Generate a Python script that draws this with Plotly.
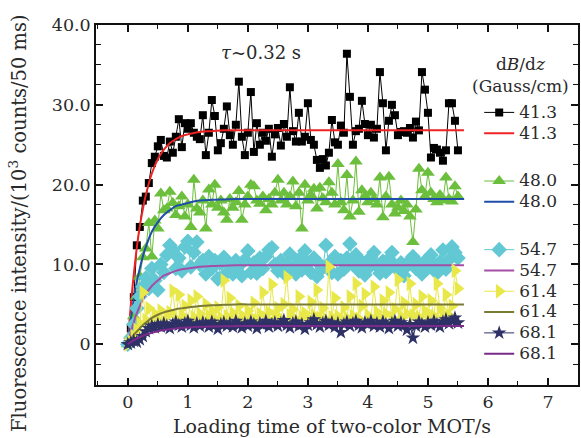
import plotly.graph_objects as go

# sampling time grid (50 ms per point), s
t_data = [round(i * 0.05, 2) for i in range(111)]

# dB/dz = 41.3 Gauss/cm (black squares)
y413 = [0.0, 2.0, 5.9, 12.4, 14.7, 18.0, 18.5, 20.2, 22.7, 23.5,
        24.8, 25.6, 23.6, 23.4, 25.4, 24.0, 26.0, 28.2, 24.7, 27.7,
        27.0, 27.7, 26.5, 26.0, 25.7, 28.7, 23.7, 26.5, 30.6, 28.6,
        24.3, 25.2, 27.0, 29.8, 26.2, 25.0, 27.5, 32.9, 26.0, 23.7,
        26.5, 31.6, 24.1, 27.7, 25.0, 26.5, 25.5, 27.0, 23.5, 26.3,
        27.1, 24.9, 27.6, 26.0, 32.2, 26.7, 25.4, 29.0, 25.4, 26.0,
        30.2, 25.6, 25.0, 23.1, 22.1, 23.2, 22.4, 24.0, 28.1, 25.3,
        25.0, 27.4, 26.5, 36.4, 31.0, 25.0, 26.7, 27.0, 30.5, 27.6,
        26.2, 27.5, 25.9, 27.0, 34.1, 30.2, 24.3, 28.0, 30.0, 28.7,
        26.2, 26.6, 26.7, 26.5, 27.1, 25.9, 27.9, 26.8, 34.1, 31.9,
        29.0, 23.4, 24.6, 24.4, 24.0, 23.0, 24.3, 30.2, 30.2, 28.0,
        24.3]

# dB/dz = 48.0 (green triangles)
y480 = [0.0, 1.2, 3.5, 6.0, 8.5, 10.9, 12.0, 15.2, 11.0, 15.5,
        14.5, 18.9, 16.8, 17.0, 19.1, 17.7, 16.2, 17.3, 18.5, 16.0,
        17.5, 14.7, 20.6, 17.0, 16.5, 18.0, 14.5, 19.4, 17.5, 20.0,
        17.1, 18.0, 16.5, 15.6, 18.2, 17.1, 17.8, 19.2, 15.6, 17.5,
        18.5, 20.0, 19.8, 18.0, 17.6, 18.5, 16.8, 18.2, 17.5, 19.0,
        20.6, 18.0, 19.0, 17.5, 18.5, 20.4, 17.3, 19.0, 14.5, 20.0,
        18.0, 18.7, 19.5, 17.0, 19.6, 18.3, 17.8, 20.3, 19.0, 17.5,
        22.6, 17.8, 16.8, 21.2, 16.0, 18.0, 22.9, 16.6, 19.3, 18.5,
        17.8, 19.0, 18.2, 17.5, 20.9, 15.9, 18.5, 21.0, 17.5, 16.4,
        17.1, 18.0, 16.7, 17.5, 16.0, 12.8, 16.9, 22.0, 19.3, 18.5,
        21.5, 19.0, 18.2, 17.8, 18.7, 18.0, 20.9, 18.2, 17.9, 19.8,
        18.5]

# dB/dz = 54.7 (cyan diamonds)
y547 = [0.0, 0.8, 2.5, 4.5, 6.0, 7.2, 8.3, 7.0, 9.5, 8.0,
        6.8, 10.0, 9.0, 11.2, 12.4, 11.8, 9.5, 10.8, 9.2, 12.2,
        12.9, 9.7, 11.5, 12.8, 10.0, 10.5, 8.8, 11.0, 9.5, 10.5,
        8.2, 10.2, 10.9, 9.0, 10.0, 8.8, 10.5, 9.8, 8.6, 10.6,
        11.7, 9.0, 10.2, 8.9, 10.8, 9.5, 11.0, 11.8, 12.1, 10.0,
        9.2, 10.5, 8.9, 10.0, 11.3, 9.5, 8.8, 10.6, 9.3, 11.7,
        10.2, 9.0, 10.8, 8.5, 10.0, 9.6, 12.4, 10.1, 9.0, 11.0,
        8.8, 10.5, 9.4, 10.8, 12.6, 10.0, 11.2, 9.2, 10.3, 8.7,
        9.5, 10.9, 11.5, 9.8, 8.9, 10.4, 9.1, 10.7, 11.5, 9.8,
        9.3, 10.2, 8.6, 9.8, 10.5, 11.0, 9.5, 10.1, 8.8, 10.4,
        9.6, 11.2, 10.0, 8.9, 10.3, 11.8, 9.4, 10.6, 12.2, 11.5,
        10.8]

# dB/dz = 61.4 (yellow right triangles)
y614 = [0.0, 0.3, 1.0, 1.8, 2.6, 6.5, 3.0, 4.5, 2.5, 3.8,
        3.0, 4.2, 2.8, 3.5, 4.0, 6.7, 3.2, 6.2, 3.6, 4.8,
        3.0, 5.5, 3.4, 6.0, 3.8, 3.1, 5.0, 3.5, 4.2, 3.2,
        4.6, 3.3, 8.0, 3.5, 5.8, 3.9, 3.2, 4.8, 3.6, 3.1,
        4.2, 3.4, 5.2, 3.0, 3.8, 6.5, 3.3, 4.0, 7.5, 3.5,
        4.5, 3.2, 5.0, 8.4, 3.6, 4.4, 3.1, 6.0, 3.4, 3.9,
        3.2, 5.3, 3.6, 6.8, 3.3, 4.5, 3.1, 9.7, 3.4, 5.8,
        3.5, 3.0, 4.6, 3.3, 6.0, 3.5, 7.6, 3.2, 4.8, 6.3,
        3.6, 3.2, 7.2, 4.0, 3.4, 5.5, 3.8, 6.5, 3.3, 4.4,
        8.1, 3.5, 5.2, 3.8, 7.6, 3.6, 5.0, 3.4, 6.0, 4.2,
        3.7, 5.5, 3.5, 7.6, 4.5, 3.8, 6.2, 3.6, 4.8, 9.2,
        7.0]

# dB/dz = 68.1 (navy stars)
y681 = [0.0, 0.2, 0.4, 0.3, 0.6, 1.0, 1.6, 2.0, 2.3, 2.1,
        2.5, 2.2, 2.6, 2.3, 2.0, 2.5, 2.8, 2.4, 2.2, 2.6,
        2.9, 2.4, 2.1, 2.6, 2.3, 2.7, 2.5, 2.2, 2.8, 2.4,
        1.9, 2.5, 2.7, 2.3, 2.6, 2.2, 2.9, 2.4, 2.1, 2.6,
        2.3, 2.8, 2.5, 2.0, 2.6, 2.4, 2.9, 2.2, 2.5, 2.7,
        2.3, 2.6, 3.0, 2.4, 2.1, 2.6, 2.8, 2.3, 2.5, 1.9,
        2.4, 2.7, 3.1, 2.5, 2.2, 2.6, 2.9, 2.4, 2.7, 2.2,
        2.6, 1.5, 2.5, 2.8, 2.3, 2.6, 2.9, 2.4, 2.1, 2.7,
        2.5, 2.9, 2.3, 2.6, 2.2, 2.8, 2.5, 2.0, 2.6, 2.9,
        2.3, 2.7, 2.4, 1.8, 2.5, 0.8, 2.3, 2.8, 2.5, 2.2,
        2.7, 2.4, 2.9, 2.5, 2.2, 2.8, 3.1, 2.6, 2.9, 3.3,
        2.7]

# fitted loading curves
t_fit = [0, 0.05, 0.1, 0.15, 0.2, 0.25, 0.3, 0.4, 0.5, 0.6, 0.7, 0.8, 0.9,
         1.0, 1.2, 1.4, 1.6, 1.8, 2.0, 2.5, 3.0, 3.5, 4.0, 4.5, 5.0, 5.6]
f413 = [0, 4.9, 8.8, 12.1, 14.8, 16.9, 18.7, 21.4, 23.2, 24.4, 25.2, 25.7, 26.1,
        26.3, 26.6, 26.7, 26.8, 26.8, 26.8, 26.8, 26.8, 26.8, 26.8, 26.8, 26.8, 26.8]
f480 = [0, 3.1, 5.6, 7.8, 9.5, 11.0, 12.2, 14.1, 15.3, 16.2, 16.8, 17.3, 17.5,
        17.7, 18.0, 18.1, 18.15, 18.2, 18.2, 18.2, 18.2, 18.2, 18.2, 18.2, 18.2, 18.2]
f547 = [0, 1.5, 2.8, 3.9, 4.8, 5.6, 6.3, 7.3, 8.0, 8.6, 8.9, 9.2, 9.4,
        9.5, 9.7, 9.8, 9.85, 9.9, 9.9, 9.9, 9.9, 9.9, 9.9, 9.9, 9.9, 9.9]
f614 = [0, 0.6, 1.2, 1.6, 2.0, 2.4, 2.7, 3.3, 3.7, 4.0, 4.2, 4.4, 4.5,
        4.6, 4.8, 4.9, 4.95, 5.0, 5.0, 5.0, 5.0, 5.0, 5.0, 5.0, 5.0, 5.0]
f681 = [0, 0.27, 0.51, 0.72, 0.9, 1.07, 1.21, 1.45, 1.64, 1.79, 1.9, 1.99, 2.06,
        2.11, 2.19, 2.23, 2.26, 2.28, 2.29, 2.3, 2.3, 2.3, 2.3, 2.3, 2.3, 2.3]

legend_labels = ["41.3", "48.0", "54.7", "61.4", "68.1"]
x_ticks = [0, 1, 2, 3, 4, 5, 6, 7]
y_ticks = [0, 10, 20, 30, 40]
y_ticktext = ["0", "10.0", "20.0", "30.0", "40.0"]

FONT = "DejaVu Serif"
TXT = "#2a2a2a"

fig = go.Figure()

series = [
    (y413, f413, "#000000", "square", 8, "#ee2222", "g1"),
    (y480, f480, "#6cbf3c", "triangle-up", 12, "#1f4ea8", "g2"),
    (y547, f547, "#62c8d3", "diamond", 12, "#a54ea8", "g3"),
    (y614, f614, "#e8e84a", "triangle-right", 13, "#7a7a32", "g3"),
    (y681, f681, "#2e3166", "star", 11, "#7a2a88", "g3"),
]

def big(s):
    return '<span style="font-size:17px">' + s + '</span>'

for (yd, yf, dcol, sym, msz, fcol, grp), lab in zip(series, legend_labels):
    fig.add_trace(go.Scatter(
        x=t_data, y=yd, mode="lines+markers", name=big(lab), legendgroup=grp,
        line=dict(color=dcol, width=1),
        marker=dict(symbol=sym, size=msz, color=dcol, line=dict(width=0)),
    ))
    fig.add_trace(go.Scatter(
        x=t_fit, y=yf, mode="lines", name=big(lab), legendgroup=grp,
        line=dict(color=fcol, width=2, shape="spline"),
    ))

fig.add_annotation(
    xref="x", yref="y", x=2.22, y=36.6, text="<i>τ</i>~0.32 s",
    showarrow=False, font=dict(family=FONT, size=18, color=TXT),
)
# legend heading
fig.add_annotation(
    xref="paper", yref="paper", x=0.88, y=0.86,
    text="d<i>B</i>/d<i>z</i><br>(Gauss/cm)",
    showarrow=False, font=dict(family=FONT, size=17, color=TXT),
    xanchor="center", yanchor="middle", align="center",
)
fig.add_annotation(
    xref="paper", yref="paper", x=-0.162, y=0.45,
    text="Fluorescence intensity/(10<sup>3</sup> counts/50 ms)", textangle=-90,
    showarrow=False, font=dict(family=FONT, size=19.5, color=TXT),
    xanchor="center", yanchor="middle",
)
fig.add_annotation(
    xref="paper", yref="paper", x=0.49, y=-0.114,
    text="Loading time of two-color MOT/s",
    showarrow=False, font=dict(family=FONT, size=19, color=TXT),
    xanchor="center", yanchor="middle",
)

axis_common = dict(
    showgrid=False, zeroline=False, showline=True, linecolor="#111", linewidth=1.5,
    mirror="ticks", ticks="inside", ticklen=7, tickwidth=1.5, tickcolor="#111",
    tickfont=dict(family=FONT, size=17.5, color=TXT),
)

fig.update_xaxes(
    range=[-0.53, 7.5], tickvals=x_ticks,
    minor=dict(dtick=0.5, ticks="inside", ticklen=4, tickwidth=1.2, tickcolor="#111"),
    **axis_common,
)
fig.update_yaxes(
    range=[-5.1, 40], tickvals=y_ticks, ticktext=y_ticktext,
    minor=dict(dtick=2.5, ticks="inside", ticklen=5, tickwidth=1.2, tickcolor="#111"),
    **axis_common,
)

fig.update_layout(
    width=581, height=438,
    margin=dict(l=96, r=3, t=25, b=53, autoexpand=False),
    paper_bgcolor="white", plot_bgcolor="white",
    font=dict(family=FONT, size=17, color=TXT),
    showlegend=True,
    legend=dict(
        x=0.795, y=0.80, xanchor="left", yanchor="top",
        bgcolor="rgba(0,0,0,0)", borderwidth=0,
        traceorder="grouped", tracegroupgap=27,
        font=dict(family=FONT, size=13.7, color=TXT),
        itemwidth=30,
    ),
)

fig.write_html("out.html")
